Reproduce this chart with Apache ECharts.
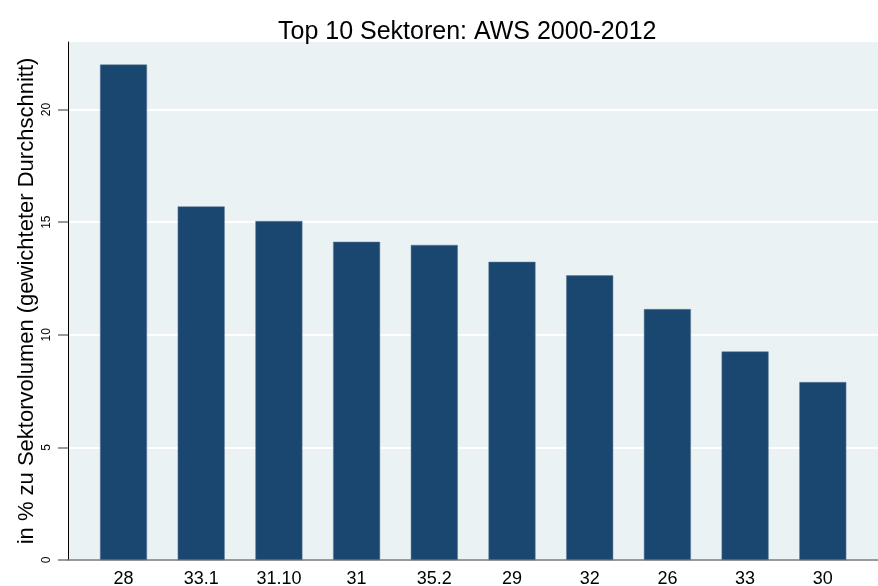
<!DOCTYPE html>
<html>
<head>
<meta charset="utf-8">
<script src="https://cdn.jsdelivr.net/npm/echarts@6/dist/echarts.min.js"></script>
<style>
html,body{margin:0;padding:0;background:#fff;}
#c{width:878px;height:586px;}
</style>
</head>
<body>
<div id="c"></div>
<script>
const categories = ['28', '33.1', '31.10', '31', '35.2', '29', '32', '26', '33', '30'];
const values = [22.0, 15.7, 15.05, 14.13, 13.99, 13.24, 12.64, 11.14, 9.26, 7.9];
const yTicks = [0, 5, 10, 15, 20];

const FONT = '"Liberation Sans", Arial, Helvetica, sans-serif';
const chart = echarts.init(document.getElementById('c'), null, {renderer: 'canvas'});

chart.setOption({
  animation: false,
  backgroundColor: '#ffffff',
  title: {
    text: 'Top 10 Sektoren: AWS 2000-2012',
    left: 278,
    top: 20,
    padding: 0,
    textStyle: {fontFamily: FONT, fontSize: 25, fontWeight: 'normal', color: '#000'}
  },
  grid: [
    {left: 68, right: 0, top: 42, bottom: 26, show: true, backgroundColor: '#eaf2f3', borderWidth: 0, containLabel: false, outerBoundsMode: 'none'},
    {left: 84.65, right: 16.35, top: 42, bottom: 26, show: false, containLabel: false, outerBoundsMode: 'none'}
  ],
  xAxis: [
    {
      gridIndex: 0, type: 'value', min: 0, max: 1,
      axisLine: {show: true, onZero: false, lineStyle: {color: '#7a7a7a', width: 1.5}},
      axisTick: {show: false}, axisLabel: {show: false}, splitLine: {show: false}
    },
    {
      gridIndex: 1, type: 'category', data: categories,
      axisLine: {show: false}, axisTick: {show: false},
      axisLabel: {fontFamily: FONT, fontSize: 18, color: '#000', margin: 10},
      splitLine: {show: false}
    }
  ],
  yAxis: [
    {
      gridIndex: 0, type: 'value', min: 0, max: 23, interval: 5,
      name: 'in % zu Sektorvolumen (gewichteter Durchschnitt)',
      nameLocation: 'middle', nameRotate: 90, nameGap: 30, nameMoveOverlap: false,
      nameTextStyle: {fontFamily: FONT, fontSize: 22, color: '#000'},
      axisLine: {show: true, onZero: false, lineStyle: {color: '#000', width: 1}},
      axisTick: {show: true, length: 10, customValues: yTicks, lineStyle: {color: '#7a7a7a', width: 1.5}},
      axisLabel: {show: true, rotate: 90, margin: 15, customValues: yTicks, fontFamily: FONT, fontSize: 12, color: '#000'},
      splitLine: {show: true, lineStyle: {color: '#ffffff', width: 2}}
    },
    {
      gridIndex: 1, type: 'value', min: 0, max: 23,
      axisLine: {show: false}, axisTick: {show: false}, axisLabel: {show: false}, splitLine: {show: false}
    }
  ],
  series: [{
    type: 'bar',
    xAxisIndex: 1, yAxisIndex: 1,
    data: values,
    barWidth: 47,
    itemStyle: {color: '#1a476f', borderColor: '#5f7d99', borderWidth: 0.5}
  }]
});
</script>
</body>
</html>
